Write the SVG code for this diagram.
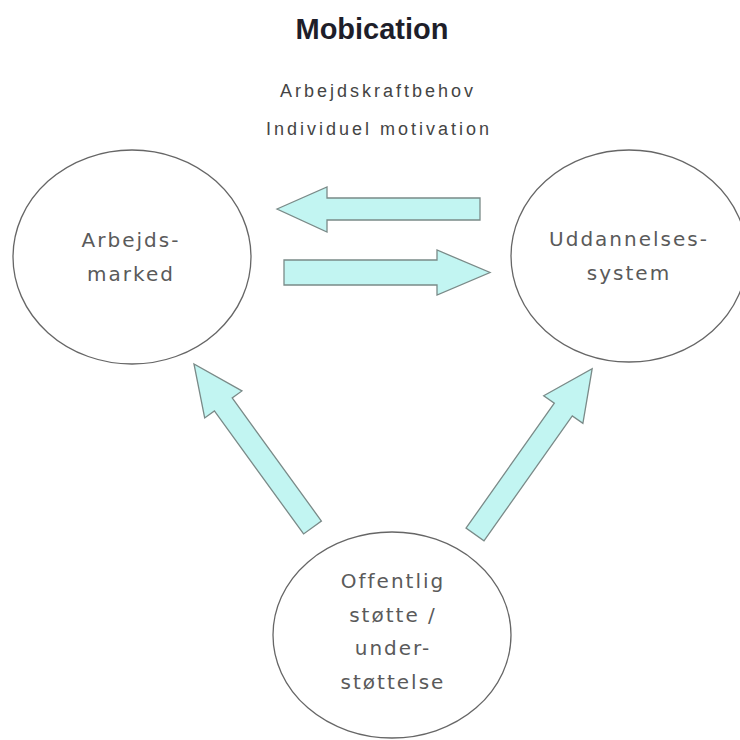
<svg xmlns="http://www.w3.org/2000/svg" width="740" height="740" viewBox="0 0 740 740">
<style>
.node ellipse{fill:#fff;stroke:#666;stroke-width:1.3}
.node text{font-family:"DejaVu Sans",sans-serif;font-size:20px;fill:#5a5a5a;text-anchor:middle;letter-spacing:2px}
.arrow{fill:#c2f5f2;stroke:#7a8a88;stroke-width:1.3;stroke-linejoin:miter}
.title{font-family:"Liberation Sans",Arial,sans-serif;font-weight:bold;font-size:29px;fill:#1e1e2a;text-anchor:middle}
.sub{font-family:"Liberation Sans",Arial,sans-serif;font-size:18px;fill:#444;text-anchor:middle;letter-spacing:3px}
</style>
<rect width="740" height="740" fill="#fff"/>
<text class="title" x="372" y="39">Mobication</text>
<text class="sub" x="378" y="97">Arbejdskraftbehov</text>
<text class="sub" x="379" y="135">Individuel motivation</text>
<g id="arbejdsmarked" class="node">
<ellipse cx="132" cy="257" rx="119" ry="107"/>
<text x="131" y="247">Arbejds-</text>
<text x="131" y="281">marked</text>
</g>
<g id="uddannelsessystem" class="node">
<ellipse cx="629" cy="256" rx="118" ry="106"/>
<text x="629" y="246">Uddannelses-</text>
<text x="629" y="280">system</text>
</g>
<g id="offentlig" class="node">
<ellipse cx="392" cy="635" rx="119" ry="103"/>
<text x="393" y="588">Offentlig</text>
<text x="393" y="622">støtte /</text>
<text x="393" y="655">under-</text>
<text x="393" y="689">støttelse</text>
</g>
<g id="connectors">
<polygon class="arrow" points="277,209 327,187 327,198 480,198 480,220 327,220 327,232"/>
<polygon class="arrow" points="284,260 437,260 437,250 490,272.5 437,295 437,285 284,285"/>
<path class="arrow" transform="translate(312.5,527.5) rotate(-125.93)" d="M0,-11 L152,-11 L152,-23 L202,0 L152,23 L152,11 L0,11 Z"/>
<path class="arrow" transform="translate(475,534.5) rotate(-54.75)" d="M0,-11 L153,-11 L153,-24 L203,0 L153,24 L153,11 L0,11 Z"/>
</g>
</svg>
